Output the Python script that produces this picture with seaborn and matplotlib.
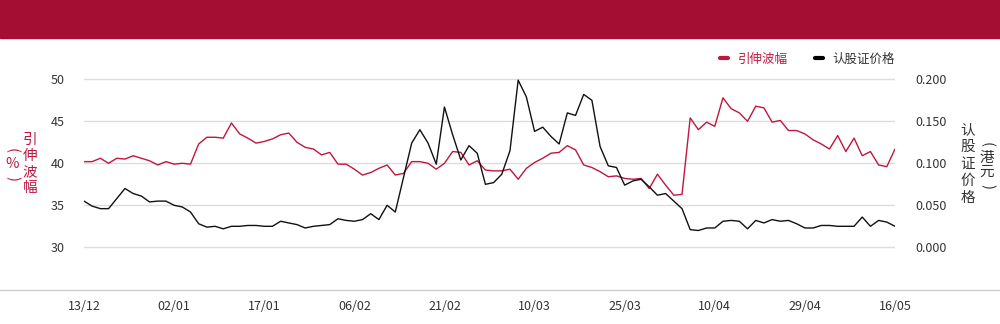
import seaborn as sns
import matplotlib.pyplot as plt
import pandas as pd
from matplotlib.lines import Line2D
from matplotlib.patches import Rectangle

# 引伸波幅 (%) - left axis
iv = [40.2, 40.2, 40.6, 40.0, 40.6, 40.5, 40.9, 40.6, 40.3, 39.8,
      40.2, 39.9, 40.0, 39.9, 42.3, 43.1, 43.1, 43.0, 44.8, 43.5,
      43.0, 42.4, 42.6, 42.9, 43.4, 43.6, 42.5, 41.9, 41.7, 41.0,
      41.3, 39.9, 39.9, 39.3, 38.6, 38.9, 39.4, 39.8, 38.6, 38.8,
      40.2, 40.2, 40.0, 39.3, 40.0, 41.4, 41.3, 39.8, 40.3, 39.2,
      39.1, 39.1, 39.3, 38.1, 39.4, 40.1, 40.6, 41.2, 41.3, 42.1,
      41.6, 39.8, 39.5, 39.0, 38.4, 38.5, 38.2, 38.1, 38.2, 37.0,
      38.7, 37.4, 36.2, 36.3, 45.4, 44.0, 44.9, 44.4, 47.8, 46.5,
      46.0, 45.0, 46.8, 46.6, 44.9, 45.1, 43.9, 43.9, 43.5, 42.8,
      42.3, 41.7, 43.3, 41.4, 43.0, 40.9, 41.4, 39.8, 39.6, 41.7]

# 认股证价格 (港元) - right axis
price = [0.055, 0.049, 0.046, 0.046, 0.058, 0.070, 0.064, 0.061, 0.054, 0.055,
         0.055, 0.050, 0.048, 0.042, 0.028, 0.024, 0.025, 0.022, 0.025, 0.025,
         0.026, 0.026, 0.025, 0.025, 0.031, 0.029, 0.027, 0.023, 0.025, 0.026,
         0.027, 0.034, 0.032, 0.031, 0.033, 0.040, 0.033, 0.050, 0.042, 0.083,
         0.124, 0.140, 0.124, 0.099, 0.167, 0.134, 0.104, 0.121, 0.112, 0.075,
         0.077, 0.087, 0.115, 0.199, 0.179, 0.138, 0.143, 0.132, 0.123, 0.160,
         0.157, 0.182, 0.175, 0.120, 0.097, 0.095, 0.074, 0.079, 0.081, 0.072,
         0.062, 0.064, 0.055, 0.046, 0.021, 0.020, 0.023, 0.023, 0.031, 0.032,
         0.031, 0.022, 0.032, 0.029, 0.033, 0.031, 0.032, 0.028, 0.023, 0.023,
         0.026, 0.026, 0.025, 0.025, 0.025, 0.036, 0.025, 0.032, 0.030, 0.025]

tick_labels = ['13/12', '02/01', '17/01', '06/02', '21/02',
               '10/03', '25/03', '10/04', '29/04', '16/05']
tick_pos = [i * 11 for i in range(len(tick_labels))]

df = pd.DataFrame({'x': range(len(iv)), 'iv': iv, 'price': price})

RED = '#c0163f'
BANNER = '#a50e33'
TXT = '#333333'

sns.set_theme(style='white')
plt.rcParams['font.family'] = ['Noto Sans CJK SC', 'DejaVu Sans']

W, H = 1000, 324
fig = plt.figure(figsize=(W / 100, H / 100), dpi=100)

# axes box in pixels
left_px, right_px, top_px, bot_px = 84, 895, 75, 289
ax = fig.add_axes([left_px / W, 1 - bot_px / H,
                   (right_px - left_px) / W, (bot_px - top_px) / H])

# value -> pixel: 50 at 79.3, 30 at 247.3
ppu = (247.3 - 79.3) / 20
ytop = 50 + (79.3 - top_px) / ppu
ybot = 30 - (bot_px - 247.3) / ppu

sns.lineplot(data=df, x='x', y='iv', ax=ax, color=RED, linewidth=1)
ax.set_xlim(0, len(iv) - 1)
ax.set_ylim(ybot, ytop)
ax.set_yticks([30, 35, 40, 45, 50])
ax.yaxis.grid(True, color='#dddddd', linewidth=1)
ax.set_axisbelow(True)

ax2 = ax.twinx()
sns.lineplot(data=df, x='x', y='price', ax=ax2, color='#111111', linewidth=1)
ax2.set_ylim((ybot - 30) / 100, (ytop - 30) / 100)
ax2.set_yticks([0, 0.05, 0.1, 0.15, 0.2])
ax2.set_yticklabels(['0.000', '0.050', '0.100', '0.150', '0.200'])

for a in (ax, ax2):
    for s in a.spines.values():
        s.set_visible(False)
    a.set_xlabel('')
    a.set_ylabel('')
    a.tick_params(length=0, labelsize=9, colors=TXT)

ax.tick_params(axis='y', pad=14)
ax2.tick_params(axis='y', pad=15)
ax.set_xticks(tick_pos)
ax.set_xticklabels(tick_labels)
ax.tick_params(axis='x', pad=8, labelsize=9)

# header banner and bottom rule
fig.patches.append(Rectangle((0, 1 - 38 / H), 1, 38 / H, transform=fig.transFigure,
                             color=BANNER, zorder=0))
fig.lines.append(Line2D([0, 1], [1 - 289.5 / H] * 2, transform=fig.transFigure,
                        color='#cccccc', linewidth=1))


def vtext(x, ys, chars, color):
    # stack characters vertically, parentheses turned sideways
    for y, ch in zip(ys, chars):
        rot = -90 if ch in '()' else 0
        fig.text(x / W, 1 - y / H, ch, color=color, fontsize=10.5,
                 ha='center', va='center', rotation=rot)


vtext(30, [140, 156, 172, 188], '引伸波幅', RED)
vtext(12, [150, 164, 178], '(%)', RED)
vtext(968, [130, 147, 164, 181, 198], '认股证价格', TXT)
vtext(987, [144, 158, 172, 186], '(港元)', TXT)

# legend
handles = [Line2D([], [], color=RED, linewidth=3),
           Line2D([], [], color='black', linewidth=3)]
leg = ax.legend(handles, ['引伸波幅', '认股证价格'], ncol=2, frameon=False,
                loc='center right', bbox_to_anchor=(895 / W, 1 - 59 / H),
                bbox_transform=fig.transFigure, fontsize=9,
                handlelength=0.6, handletextpad=0.8, columnspacing=2.2,
                borderpad=0, borderaxespad=0)
leg.get_texts()[0].set_color(RED)
leg.get_texts()[1].set_color(TXT)

fig.savefig('out.png', dpi=100)
